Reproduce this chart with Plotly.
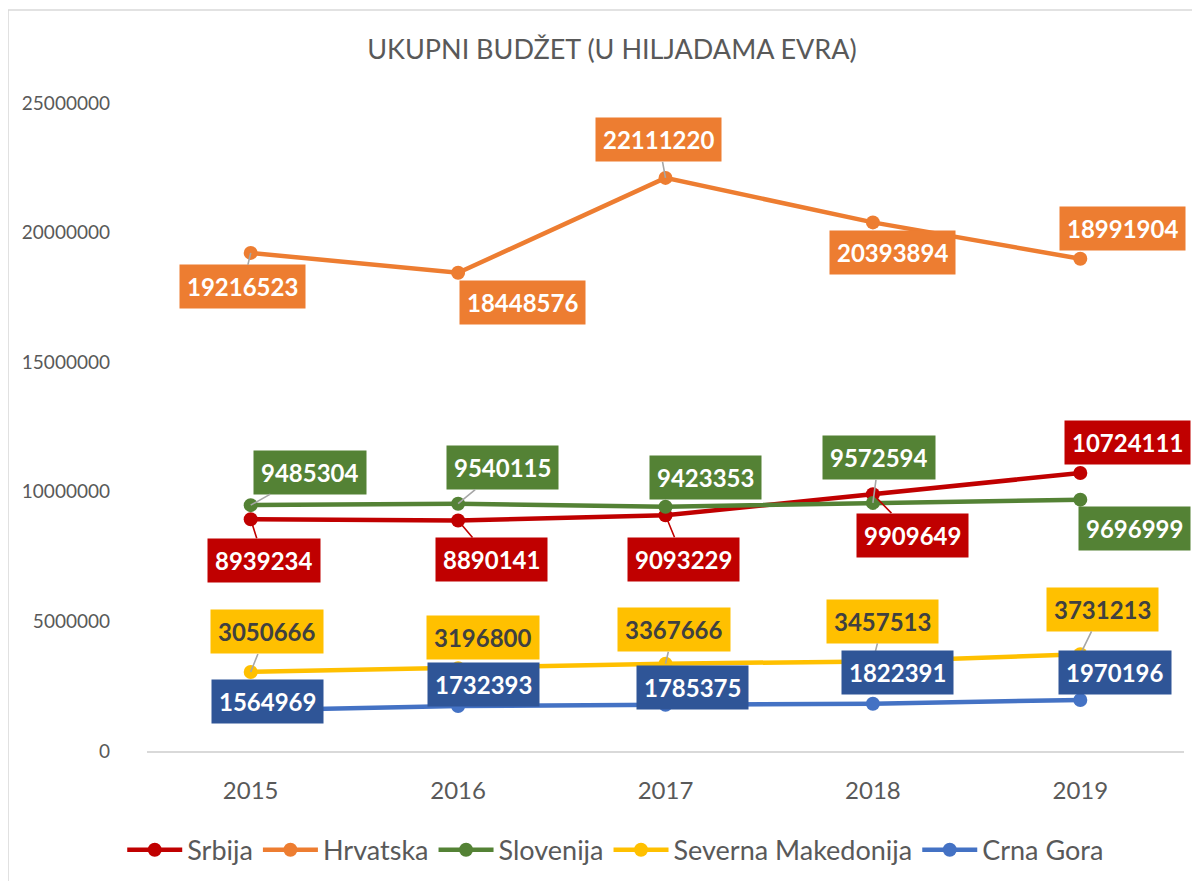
import plotly.graph_objects as go

# data
years = ["2015", "2016", "2017", "2018", "2019"]
series_names = ["Srbija", "Hrvatska", "Slovenija", "Severna Makedonija", "Crna Gora"]
srbija = [8939234, 8890141, 9093229, 9909649, 10724111]
hrvatska = [19216523, 18448576, 22111220, 20393894, 18991904]
slovenija = [9485304, 9540115, 9423353, 9572594, 9696999]
s_makedonija = [3050666, 3196800, 3367666, 3457513, 3731213]
crna_gora = [1564969, 1732393, 1785375, 1822391, 1970196]
y_ticks = [0, 5000000, 10000000, 15000000, 20000000, 25000000]

# styles
line_colors = ["#C00000", "#ED7D31", "#548235", "#FFC000", "#4472C4"]
box_colors = ["#C00000", "#ED7D31", "#548235", "#FFC000", "#2F5597"]
text_colors = ["white", "white", "white", "#404040", "white"]
leader_colors = ["#C00000", "#A6A6A6", "#A6A6A6", "#A6A6A6", "#A6A6A6"]

# label offsets in pixels (dx, dy) and whether a leader line is shown
label_offsets = [
    [(13, 41), (33, 39), (18, 44), (40, 41), (47, -31)],
    [(-8, 34), (64, 30), (-7, -38), (20, 30), (42, -30)],
    [(59, -33), (44, -36), (40, -29), (6, -45), (54, 29)],
    [(16, -40), (25, -31), (8, -34), (10, -40), (22, -45)],
    [(17, -9), (25, -22), (27, -17), (25, -31), (35, -27)],
]
leaders = [
    [1, 1, 1, 1, 0],
    [1, 0, 1, 0, 0],
    [1, 1, 0, 1, 0],
    [1, 0, 1, 1, 1],
    [0, 0, 0, 0, 0],
]

all_values = [srbija, hrvatska, slovenija, s_makedonija, crna_gora]
FONT = "Lato, 'Open Sans', sans-serif"
GRAY = "#595959"

fig = go.Figure()
for name, vals, col in zip(series_names, all_values, line_colors):
    fig.add_trace(go.Scatter(x=years, y=vals, name=name, mode="lines+markers",
                             line=dict(color=col, width=4.5),
                             marker=dict(color=col, size=14)))

annotations = []
for i, vals in enumerate(all_values):
    for j, v in enumerate(vals):
        dx, dy = label_offsets[i][j]
        annotations.append(dict(
            x=j, y=v, xref="x", yref="y",
            text=f"<b>{v}</b>", showarrow=True, arrowhead=0, arrowwidth=1.6,
            arrowcolor=leader_colors[i] if leaders[i][j] else "rgba(0,0,0,0)",
            ax=dx, ay=dy, bgcolor=box_colors[i], borderpad=7,
            font=dict(family=FONT, size=24, color=text_colors[i]),
        ))

fig.update_layout(
    width=1200, height=881,
    margin=dict(l=139, r=24, t=95, b=138),
    paper_bgcolor="white", plot_bgcolor="white",
    title=dict(text="UKUPNI BUDŽET (U HILJADAMA EVRA)", x=604 / 1200, y=1 - 42 / 881,
               xanchor="center", yanchor="middle", xref="container", yref="container",
               font=dict(family=FONT, size=27, color=GRAY)),
    xaxis=dict(type="category", range=[-0.5, 4.5], showgrid=False, zeroline=False,
               showline=True, linecolor="#D9D9D9", linewidth=2,
               ticks="", ticklabelstandoff=17,
               tickfont=dict(family=FONT, size=24, color=GRAY)),
    yaxis=dict(range=[0, 25000000], tickvals=y_ticks, ticktext=[str(t) for t in y_ticks],
               showgrid=False, zeroline=False, showline=False, ticks="",
               ticklabelstandoff=36,
               tickfont=dict(family=FONT, size=19, color=GRAY)),
    legend=dict(orientation="h", x=0.452, y=-0.153, xanchor="center", yanchor="middle",
                font=dict(family=FONT, size=27, color=GRAY), itemwidth=55),
    annotations=annotations,
    shapes=[dict(type="rect", xref="paper", yref="paper", x0=-0.134, x1=1.2,
                 y0=-0.3, y1=1.1435, line=dict(color="#D9D9D9", width=1.5),
                 layer="below")],
    showlegend=True,
)

fig.write_html("out.html")
